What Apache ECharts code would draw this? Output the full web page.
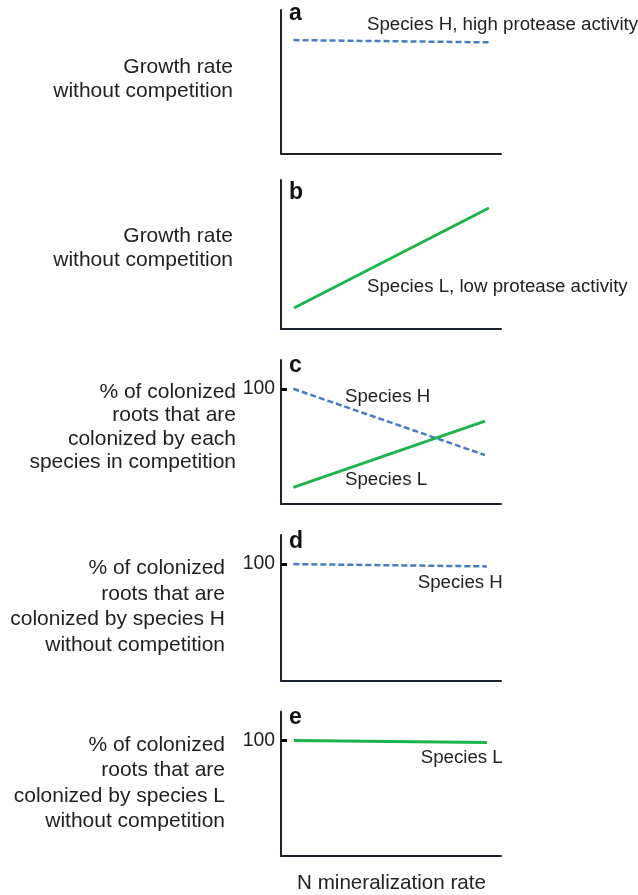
<!DOCTYPE html>
<html>
<head>
<meta charset="utf-8">
<script src="https://cdn.jsdelivr.net/npm/echarts@6/dist/echarts.min.js"></script>
<style>
  html, body { margin: 0; padding: 0; background: #fff; }
  #chart { width: 638px; height: 895px; }
</style>
</head>
<body>
<div id="chart"></div>
<script>
// values, x = N mineralization rate (0-100), y = response (0-125)
const panelA_H = [[5.7, 98.8], [95.5, 96.8]]
const panelB_L = [[5.9, 17.6], [94.5, 101.5]]
const panelC_H = [[5.6, 100], [92.7, 42.5]]
const panelC_L = [[5.6, 14.5], [92.7, 72]]
const panelD_H = [[5.6, 100], [93.6, 98]]
const panelE_L = [[5.9, 100], [93.6, 98.1]]
const yTickValues = [100]

const panelLetters = ['a', 'b', 'c', 'd', 'e']
const leftLabels = [
  'Growth rate\nwithout competition',
  'Growth rate\nwithout competition',
  '% of colonized\nroots that are\ncolonized by each\nspecies in competition',
  '% of colonized\nroots that are\ncolonized by species H\nwithout competition',
  '% of colonized\nroots that are\ncolonized by species L\nwithout competition'
]
const xTitle = 'N mineralization rate'

const BLUE = '#4a7cc4'
const GREEN = '#1db44e'
const INK = '#222222'
const FONT = '"Liberation Sans", Arial, Helvetica, sans-serif'

// grid boxes (pixels) for the five panels
const boxes = [
  { top: 10, bottom: 153.5 },
  { top: 180, bottom: 329 },
  { top: 360, bottom: 504 },
  { top: 535, bottom: 680.5 },
  { top: 711.5, bottom: 856 }
]
const showTick = [false, false, true, true, true]

const chart = echarts.init(document.getElementById('chart'), null, { renderer: 'canvas' })

const grids = boxes.map(b => ({ left: 281, right: 137, top: b.top, height: b.bottom - b.top }))
const xAxes = boxes.map((b, i) => ({
  type: 'value', gridIndex: i, min: 0, max: 100,
  axisLine: { show: true, onZero: false, lineStyle: { color: '#1e2330', width: 2 } },
  axisTick: { show: false }, axisLabel: { show: false }, splitLine: { show: false }
}))
const yAxes = boxes.map((b, i) => ({
  type: 'value', gridIndex: i, min: 0, max: 125,
  axisLine: { show: true, onZero: false, lineStyle: { color: '#1e2330', width: 2 } },
  axisTick: {
    show: showTick[i], inside: true, length: 6, customValues: yTickValues,
    lineStyle: { color: '#000', width: 3 }
  },
  axisLabel: {
    show: showTick[i], customValues: yTickValues, margin: 6,
    color: INK, fontSize: 19.4, fontFamily: FONT
  },
  splitLine: { show: false }
}))

function line(data, i, color, dashed) {
  return {
    type: 'line', xAxisIndex: i, yAxisIndex: i, data: data,
    symbol: 'none', silent: true, animation: false,
    lineStyle: dashed
      ? { color: color, width: 2.5, type: [6, 3] }
      : { color: color, width: 3 }
  }
}

function txt(x, y, text, opts) {
  return {
    type: 'text', x: x, y: y, silent: true,
    style: Object.assign({
      text: text, fill: INK, font: '18.7px ' + FONT,
      textAlign: 'left', textVerticalAlign: 'middle'
    }, opts || {})
  }
}

const letterY = [14, 192.3, 365.6, 541.3, 717.3]
const leftLabelPos = [
  { x: 233, y: 79.5, lh: 24.4 },
  { x: 233, y: 248.7, lh: 24 },
  { x: 236, y: 427, lh: 23.5 },
  { x: 225, y: 606.7, lh: 25.5 },
  { x: 225, y: 783.3, lh: 25.5 }
]

const graphics = []
panelLetters.forEach((l, i) => {
  graphics.push(txt(289, letterY[i], l, { font: 'bold 23px ' + FONT, fill: '#111' }))
})
leftLabels.forEach((t, i) => {
  const p = leftLabelPos[i]
  graphics.push(txt(p.x, p.y, t, {
    font: '21px ' + FONT, textAlign: 'right', lineHeight: p.lh
  }))
})
graphics.push(txt(367, 25, 'Species H, high protease activity'))
graphics.push(txt(367, 286.7, 'Species L, low protease activity'))
graphics.push(txt(345, 396.5, 'Species H'))
graphics.push(txt(345, 480, 'Species L'))
graphics.push(txt(417.7, 582.5, 'Species H'))
graphics.push(txt(420.7, 758.3, 'Species L'))
graphics.push(txt(391.5, 883, xTitle, { font: '20.6px ' + FONT, textAlign: 'center' }))

chart.setOption({
  animation: false,
  backgroundColor: '#fff',
  grid: grids,
  xAxis: xAxes,
  yAxis: yAxes,
  series: [
    line(panelA_H, 0, BLUE, true),
    line(panelB_L, 1, GREEN, false),
    line(panelC_H, 2, BLUE, true),
    line(panelC_L, 2, GREEN, false),
    line(panelD_H, 3, BLUE, true),
    line(panelE_L, 4, GREEN, false)
  ],
  graphic: graphics
})
</script>
</body>
</html>
